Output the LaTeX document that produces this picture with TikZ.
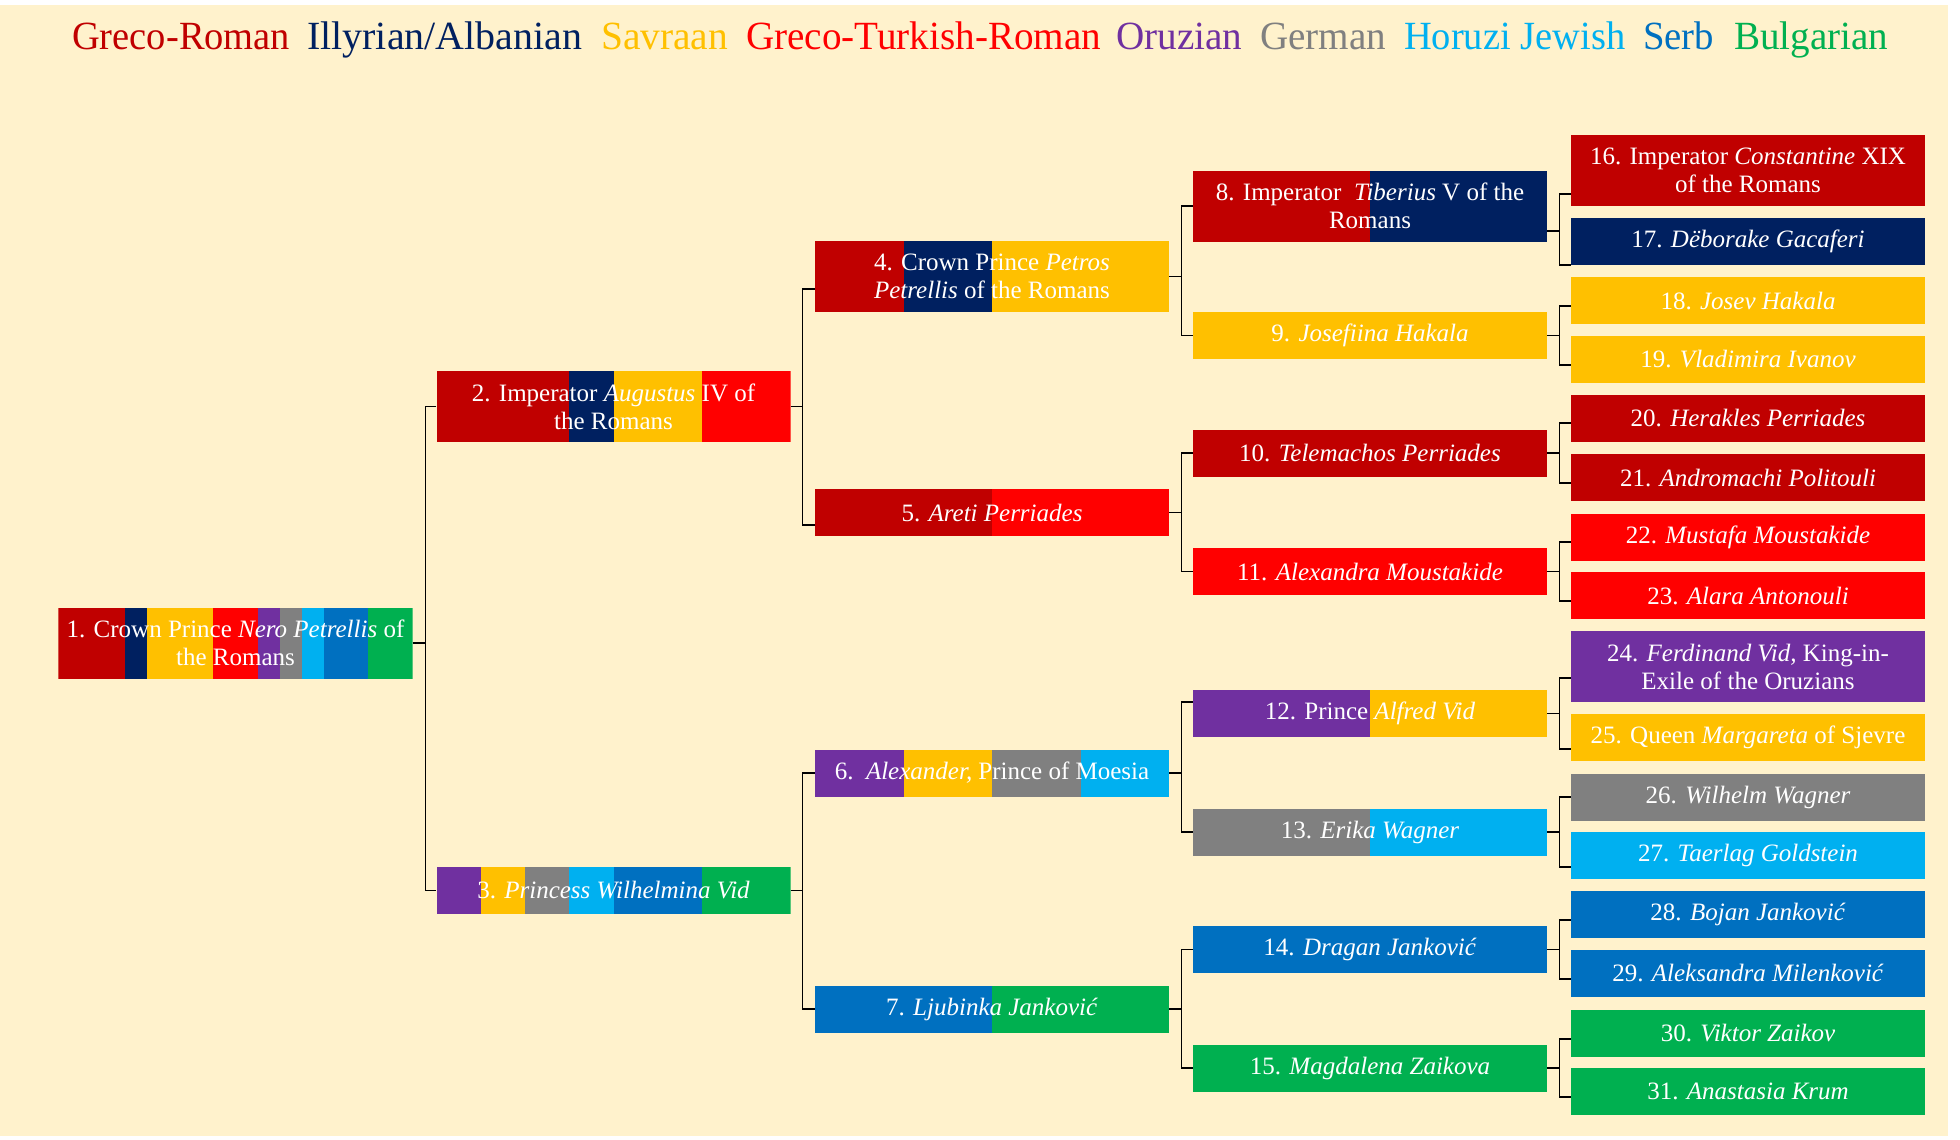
\documentclass[tikz,border=0pt]{standalone}
\usepackage{fontspec}
\usepackage{graphicx}
\setmainfont{Liberation Serif}
\usetikzlibrary{calc}
\definecolor{cGR}{HTML}{C00000}
\definecolor{cIL}{HTML}{002060}
\definecolor{cSV}{HTML}{FFC000}
\definecolor{cGT}{HTML}{FF0000}
\definecolor{cOR}{HTML}{7030A0}
\definecolor{cDE}{HTML}{808080}
\definecolor{cHJ}{HTML}{00B0F0}
\definecolor{cSB}{HTML}{0070C0}
\definecolor{cBG}{HTML}{00B050}
\definecolor{bgcream}{HTML}{FFF2CC}
\tikzset{
 stripes/.style={fill=bgcream, path picture={
   \foreach \stc [count=\n] in {#1} {\xdef\nstripes{\n}}
   \foreach \stc [count=\i] in {#1} {
     \fill[fill=\stc] ($(path picture bounding box.south west)!{(\i-1)/\nstripes}!(path picture bounding box.south east)$) rectangle ($(path picture bounding box.north west)!{\i/\nstripes}!(path picture bounding box.north east)$);
   }
 }},
 person/.style={inner sep=0pt, minimum width=354bp, minimum height=47bp, text=white, align=center, font=\fontsize{25bp}{28bp}\selectfont},
 tall/.style={minimum height=71bp},
 conn/.style={draw=black, line width=1.2bp},
 legend/.style={anchor=base west, inner sep=0pt, font=\fontsize{40bp}{40bp}\selectfont},
}
\begin{document}
\begin{tikzpicture}[x=1bp,y=-1bp]
\useasboundingbox (0,0) rectangle (1960,1139);
\fill[white] (0,0) rectangle (1960,1139);
\fill[bgcream] (0,5) rectangle (1948,1136);
% legend
\node[legend,text=cGR] (t1) at (72,49) {\resizebox{218bp}{\height}{Greco-Roman}};
\node[legend,text=cIL] (t2) at (307,49) {\resizebox{275bp}{\height}{Illyrian/Albanian}};
\node[legend,text=cSV] (t3) at (601,49) {\resizebox{127bp}{\height}{Savraan}};
\node[legend,text=cGT] (t4) at (746,49) {\resizebox{355bp}{\height}{Greco-Turkish-Roman}};
\node[legend,text=cOR] (t5) at (1116,49) {\resizebox{126bp}{\height}{Oruzian}};
\node[legend,text=cDE] (t6) at (1260,49) {\resizebox{126bp}{\height}{German}};
\node[legend,text=cHJ] (t7) at (1404,49) {\resizebox{221bp}{\height}{Horuzi Jewish}};
\node[legend,text=cSB] (t8) at (1643,49) {\resizebox{71bp}{\height}{Serb}};
\node[legend,text=cBG] (t9) at (1734,49) {\resizebox{154bp}{\height}{Bulgarian}};
% generation 0
\node[person,tall,stripes={cGR,cGR,cGR,cIL,cSV,cSV,cSV,cGT,cGT,cOR,cDE,cHJ,cSB,cSB,cBG,cBG}] (n1) at (235.5,643) {1. Crown Prince \textit{Nero Petrellis} of\\the Romans};
% generation 1
\node[person,tall,stripes={cGR,cGR,cGR,cIL,cSV,cSV,cGT,cGT}] (n2) at (613.5,406.5) {2. Imperator \textit{Augustus} IV of\\the Romans};
\node[person,stripes={cOR,cSV,cDE,cHJ,cSB,cSB,cBG,cBG}] (n3) at (613.5,890.5) {3. \textit{Princess Wilhelmina Vid}};
% generation 2
\node[person,tall,stripes={cGR,cIL,cSV,cSV}] (n4) at (992,276.5) {4. Crown Prince \textit{Petros}\\\textit{Petrellis} of the Romans};
\node[person,stripes={cGR,cGT}] (n5) at (992,512.5) {5. \textit{Areti Perriades}};
\node[person,stripes={cOR,cSV,cDE,cHJ}] (n6) at (992,773) {6.\ \ \textit{Alexander,} Prince of Moesia};
\node[person,stripes={cSB,cBG}] (n7) at (992,1009) {7. \textit{Ljubinka Janković}};
% generation 3
\node[person,tall,stripes={cGR,cIL}] (n8) at (1370,206) {8. Imperator\ \ \textit{Tiberius} V of the\\Romans};
\node[person,stripes={cSV}] (n9) at (1370,335.5) {9. \textit{Josefiina Hakala}};
\node[person,stripes={cGR}] (n10) at (1370,453) {10. \textit{Telemachos Perriades}};
\node[person,stripes={cGT}] (n11) at (1370,571.5) {11. \textit{Alexandra Moustakide}};
\node[person,stripes={cOR,cSV}] (n12) at (1370,713.5) {12. Prince \textit{Alfred Vid}};
\node[person,stripes={cDE,cHJ}] (n13) at (1370,832) {13. \textit{Erika Wagner}};
\node[person,stripes={cSB}] (n14) at (1370,949.5) {14. \textit{Dragan Janković}};
\node[person,stripes={cBG}] (n15) at (1370,1068) {15. \textit{Magdalena Zaikova}};
% generation 4
\node[person,tall,stripes={cGR}] (n16) at (1748,170.5) {16. Imperator \textit{Constantine} XIX\\of the Romans};
\node[person,stripes={cIL}] (n17) at (1748,241.5) {17. \textit{Dëborake Gacaferi}};
\node[person,stripes={cSV}] (n18) at (1748,300.5) {18. \textit{Josev Hakala}};
\node[person,stripes={cSV}] (n19) at (1748,359.5) {19. \textit{Vladimira Ivanov}};
\node[person,stripes={cGR}] (n20) at (1748,418) {20. \textit{Herakles Perriades}};
\node[person,stripes={cGR}] (n21) at (1748,477.5) {21. \textit{Andromachi Politouli}};
\node[person,stripes={cGT}] (n22) at (1748,537) {22. \textit{Mustafa Moustakide}};
\node[person,stripes={cGT}] (n23) at (1748,595.5) {23. \textit{Alara Antonouli}};
\node[person,tall,stripes={cOR}] (n24) at (1748,666.5) {24. \textit{Ferdinand Vid,} King-in-\\Exile of the Oruzians};
\node[person,stripes={cSV}] (n25) at (1748,737.5) {25. Queen \textit{Margareta} of Sjevre};
\node[person,stripes={cDE}] (n26) at (1748,797) {26. \textit{Wilhelm Wagner}};
\node[person,stripes={cHJ}] (n27) at (1748,855.5) {27. \textit{Taerlag Goldstein}};
\node[person,stripes={cSB}] (n28) at (1748,914) {28. \textit{Bojan Janković}};
\node[person,stripes={cSB}] (n29) at (1748,973) {29. \textit{Aleksandra Milenković}};
\node[person,stripes={cBG}] (n30) at (1748,1033) {30. \textit{Viktor Zaikov}};
\node[person,stripes={cBG}] (n31) at (1748,1091.5) {31. \textit{Anastasia Krum}};
% connectors
\draw[conn] (n1.east) -- ++(13,0) coordinate (b1);
\draw[conn] (n2.west) -| (b1) |- (n3.west);
\draw[conn] (n2.east) -- ++(12,0) coordinate (b2);
\draw[conn] ($(n4.west)+(0,12.5)$) -| (b2) |- ($(n5.west)+(0,12.5)$);
\draw[conn] (n3.east) -- ++(12,0) coordinate (b3);
\draw[conn] (n6.west) -| (b3) |- (n7.west);
\draw[conn] (n4.east) -- ++(12,0) coordinate (b4);
\draw[conn] (n8.west) -| (b4) |- (n9.west);
\draw[conn] (n5.east) -- ++(12,0) coordinate (b5);
\draw[conn] (n10.west) -| (b5) |- (n11.west);
\draw[conn] (n6.east) -- ++(12,0) coordinate (b6);
\draw[conn] ($(n12.west)+(0,-11.5)$) -| (b6) |- (n13.west);
\draw[conn] (n7.east) -- ++(12,0) coordinate (b7);
\draw[conn] (n14.west) -| (b7) |- (n15.west);
\draw[conn] ($(n8.east)+(0,25)$) -- ++(12,0) coordinate (b8);
\draw[conn] ($(n16.west)+(0,23.5)$) -| (b8) |- ($(n17.west)+(0,23.5)$);
\draw[conn] (n9.east) -- ++(12,0) coordinate (b9);
\draw[conn] ($(n18.west)+(0,5.5)$) -| (b9) |- ($(n19.west)+(0,5.5)$);
\draw[conn] (n10.east) -- ++(12,0) coordinate (b10);
\draw[conn] ($(n20.west)+(0,5)$) -| (b10) |- ($(n21.west)+(0,5.5)$);
\draw[conn] (n11.east) -- ++(12,0) coordinate (b11);
\draw[conn] ($(n22.west)+(0,5)$) -| (b11) |- ($(n23.west)+(0,5.5)$);
\draw[conn] (n12.east) -- ++(12,0) coordinate (b12);
\draw[conn] ($(n24.west)+(0,11.5)$) -| (b12) |- ($(n25.west)+(0,11.5)$);
\draw[conn] (n13.east) -- ++(12,0) coordinate (b13);
\draw[conn] (n26.west) -| (b13) |- ($(n27.west)+(0,11.5)$);
\draw[conn] (n14.east) -- ++(12,0) coordinate (b14);
\draw[conn] ($(n28.west)+(0,6)$) -| (b14) |- ($(n29.west)+(0,6)$);
\draw[conn] (n15.east) -- ++(12,0) coordinate (b15);
\draw[conn] ($(n30.west)+(0,6)$) -| (b15) |- ($(n31.west)+(0,5.5)$);
\end{tikzpicture}
\end{document}
